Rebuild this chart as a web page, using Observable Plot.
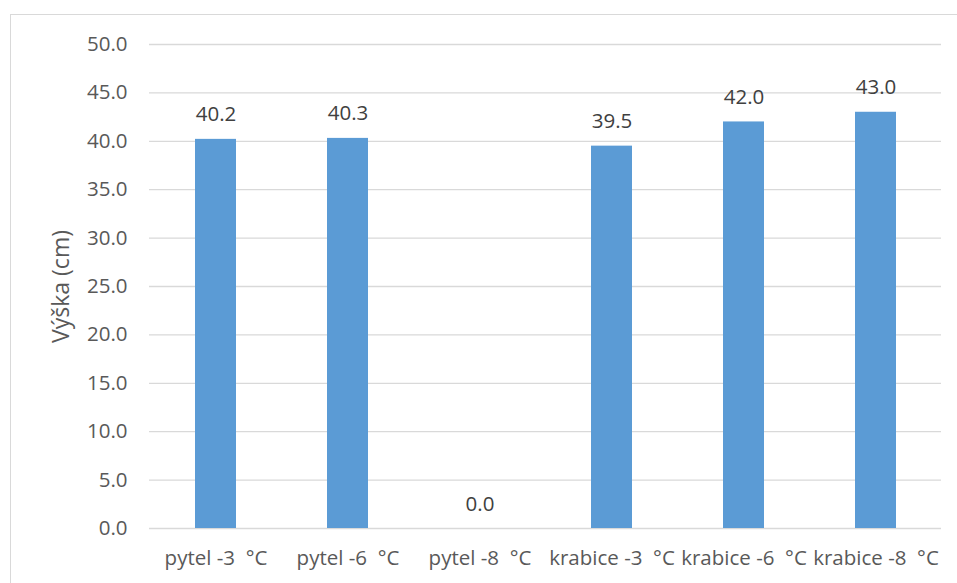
<!DOCTYPE html>
<html>
<head>
<meta charset="utf-8">
<script src="https://cdn.jsdelivr.net/npm/d3@7"></script>
<script src="https://cdn.jsdelivr.net/npm/@observablehq/plot@0.6"></script>
<style>
  html, body { margin: 0; padding: 0; background: #fff; }
  #wrap { position: relative; width: 957px; height: 583px; overflow: hidden; }
  #frame { position: absolute; left: 10px; top: 14px; width: 990px; height: 620px; border: 1.5px solid #d9d9d9; box-sizing: border-box; }
  #chart { position: absolute; left: 0; top: 0; }
</style>
</head>
<body>
<div id="wrap"><div id="frame"></div><div id="chart"></div></div>
<script>
const categories = ["pytel -3  °C", "pytel -6  °C", "pytel -8  °C", "krabice -3  °C", "krabice -6  °C", "krabice -8  °C"];
const values = [40.2, 40.3, 0.0, 39.5, 42.0, 43.0];
const yTicks = [0, 5, 10, 15, 20, 25, 30, 35, 40, 45, 50];
const yLabel = "Výška (cm)";

const data = categories.map((c, i) => ({cat: c, val: values[i]}));
const font = "'Open Sans', Lato, sans-serif";
const fs = 20.5;

const chart = Plot.plot({
  width: 957,
  height: 583,
  marginLeft: 149,
  marginRight: 16,
  marginTop: 44,
  marginBottom: 55,
  style: {fontFamily: font, fontSize: fs + "px", color: "#595959", background: "transparent"},
  x: {domain: categories, paddingInner: 0.69, paddingOuter: 0.345, label: null},
  y: {domain: [0, 50], ticks: yTicks, label: null},
  marks: [
    Plot.gridY(yTicks, {stroke: "#d9d9d9", strokeOpacity: 1, strokeWidth: 1.3}),
    Plot.barY(data, {x: "cat", y: "val", fill: "#5b9bd5"}),
    Plot.text(data, {x: "cat", y: "val", text: d => d.val.toFixed(1), dy: -18, lineAnchor: "bottom", fill: "#404040", fontSize: fs}),
    Plot.axisX({tickSize: 0, tickPadding: 22, fill: "#595959", fontSize: fs, label: null}),
    Plot.axisY(yTicks, {tickSize: 0, tickPadding: 22, tickFormat: d => d.toFixed(1), fill: "#595959", fontSize: fs, label: null}),
    Plot.text([yLabel], {frameAnchor: "left", textAnchor: "middle", dx: -88, rotate: -90, fill: "#595959", fontSize: 23})
  ]
});
document.getElementById("chart").appendChild(chart);
</script>
</body>
</html>
